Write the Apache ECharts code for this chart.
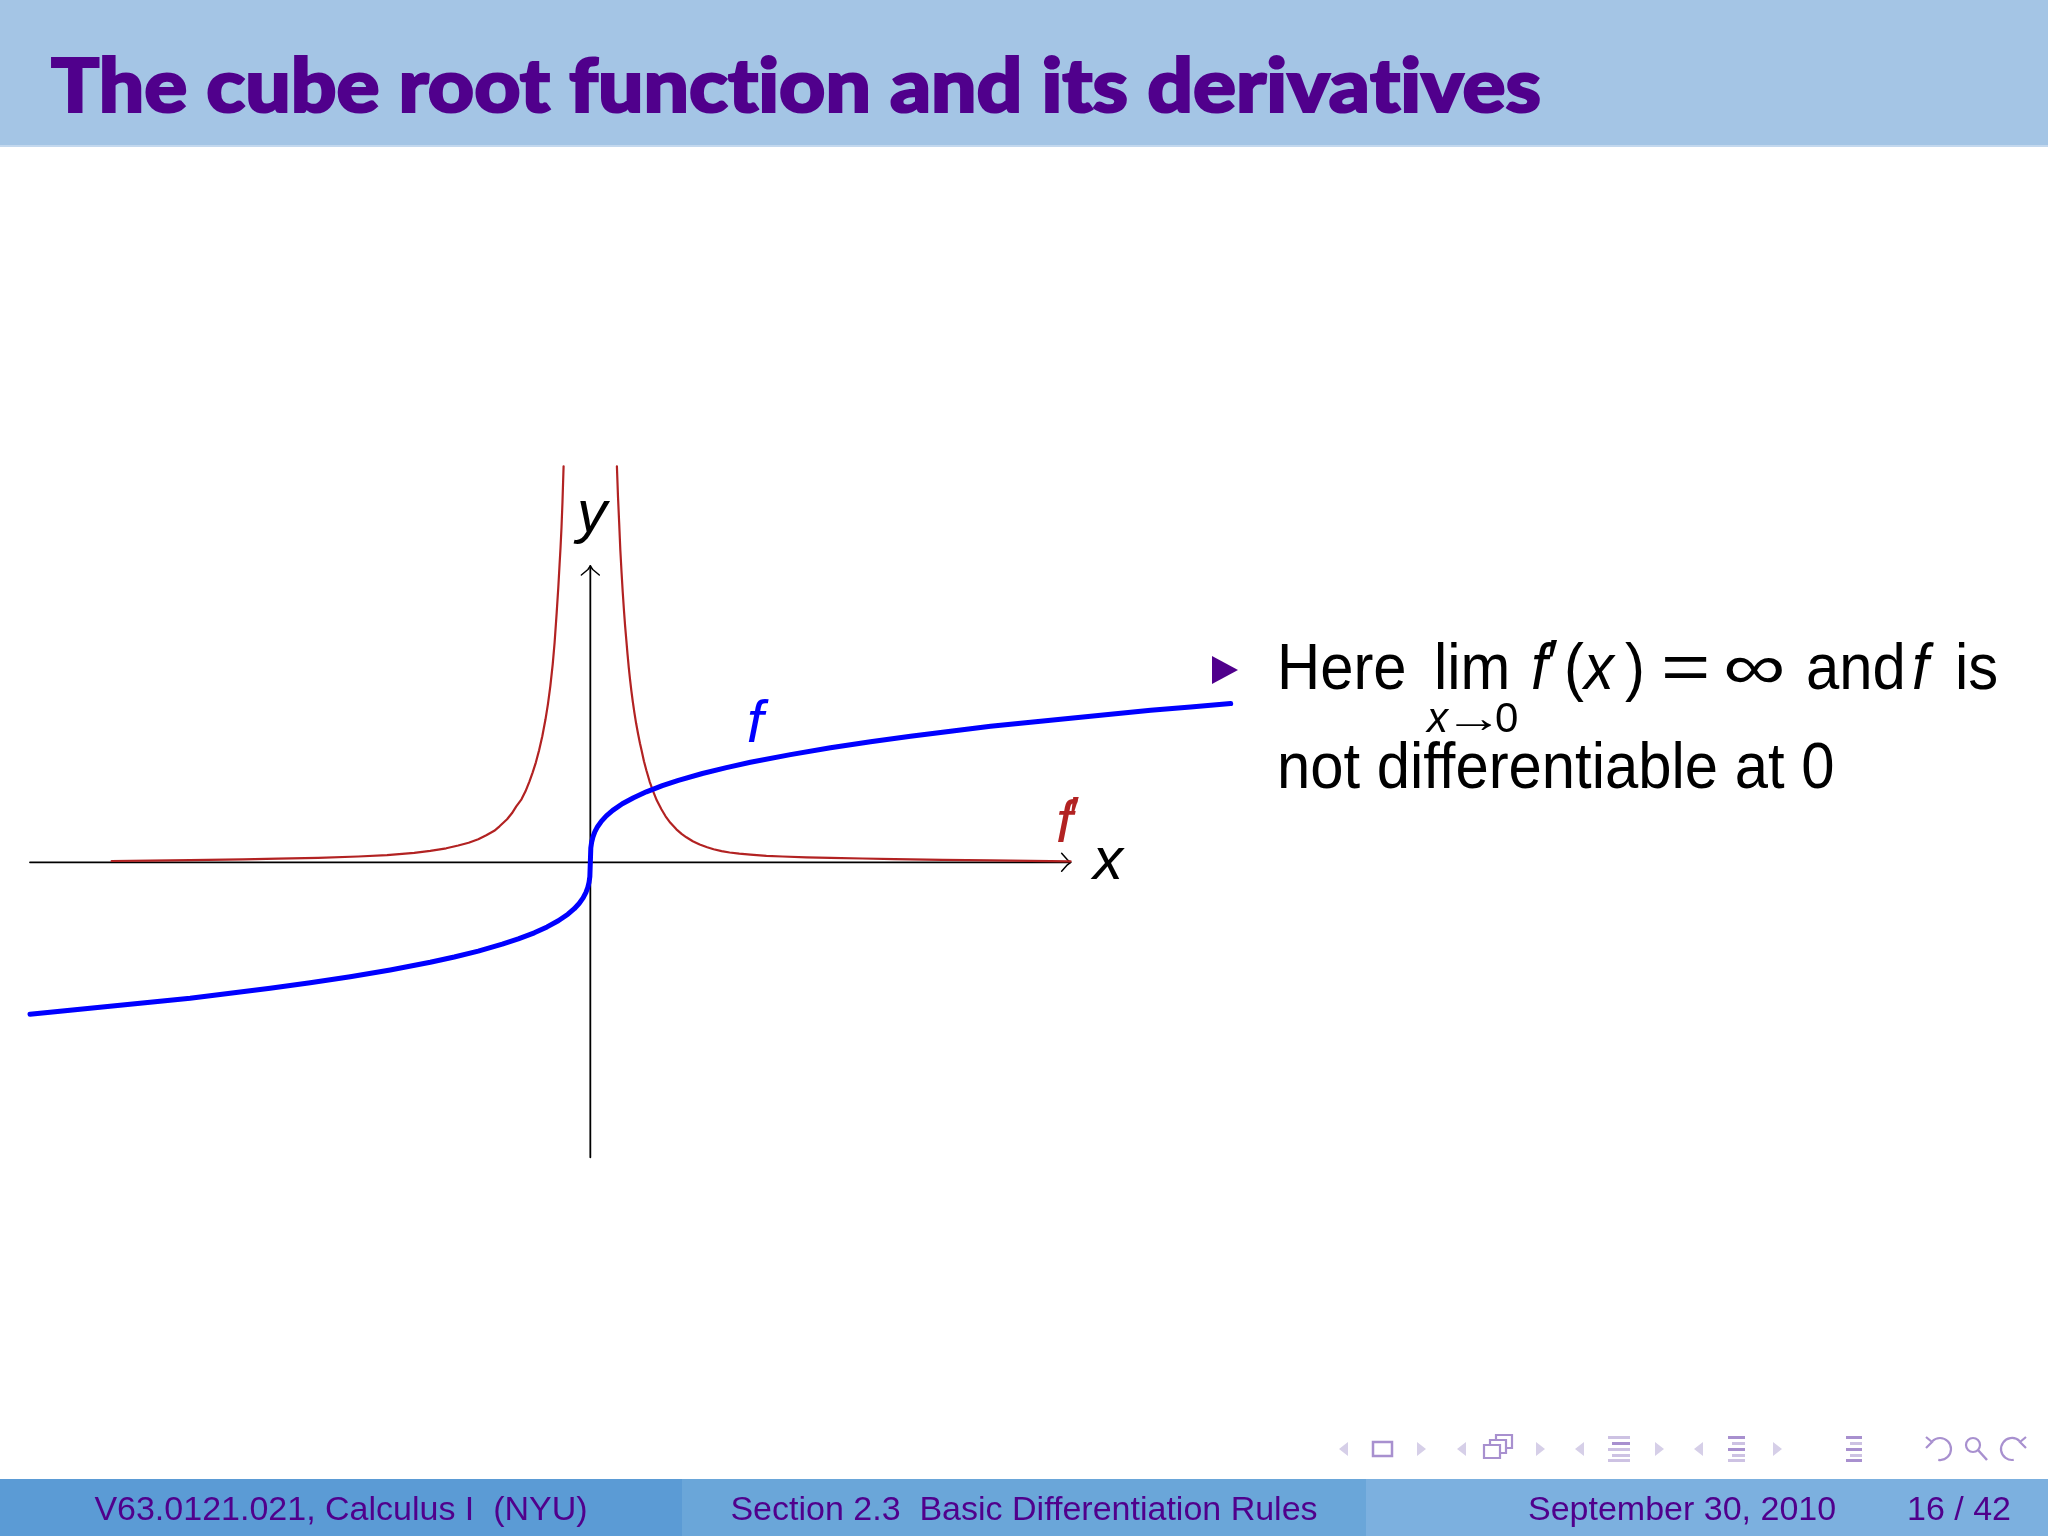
<!DOCTYPE html>
<html><head><meta charset="utf-8">
<script src="https://cdn.jsdelivr.net/npm/echarts@6/dist/echarts.min.js"></script>
<style>html,body{margin:0;padding:0;background:#fff}#c{width:2048px;height:1536px}</style>
</head><body><div id="c"></div>
<script>
// ---- data ----
const blueX = [-3.5,-3.25,-3,-2.75,-2.5,-2.25,-2,-1.75,-1.5,-1.25,-1,-0.85,-0.7,-0.55,-0.45,-0.35,-0.27,-0.2,-0.14,-0.1,-0.07,-0.045,-0.028,-0.016,-0.008,-0.003,0,
  0.003,0.008,0.016,0.028,0.045,0.07,0.1,0.14,0.2,0.27,0.35,0.45,0.55,0.7,0.85,1,1.25,1.5,1.75,2,2.25,2.5,2.75,3,3.25,3.5,3.75,4];
const blueY = [-1.52,-1.48,-1.44,-1.40,-1.36,-1.31,-1.26,-1.205,-1.145,-1.077,-1.0,-0.947,-0.888,-0.819,-0.766,-0.705,-0.646,-0.585,-0.519,-0.464,-0.412,-0.356,-0.304,-0.252,-0.2,-0.144,0,
  0.144,0.2,0.252,0.304,0.356,0.412,0.464,0.519,0.585,0.646,0.705,0.766,0.819,0.888,0.947,1.0,1.077,1.145,1.205,1.26,1.31,1.36,1.40,1.44,1.48,1.52,1.554,1.587];
const redLeftX = [-2.99,-2.75,-2.5,-2.17,-1.95,-1.7,-1.45,-1.27,-1.1,-1.0,-0.9,-0.825,-0.76,-0.7,-0.65,-0.6,-0.567,-0.52,-0.49,-0.4625,-0.43,-0.405,-0.38,-0.36,-0.34,-0.32,-0.3,-0.28,-0.265,-0.25,-0.235,-0.223,-0.21,-0.2,-0.192,-0.186,-0.18,-0.174,-0.167];
const redLeftY = [0.013,0.017,0.022,0.03,0.036,0.045,0.058,0.072,0.095,0.115,0.14,0.168,0.195,0.23,0.27,0.315,0.36,0.43,0.49,0.56,0.63,0.71,0.81,0.9,1.0,1.12,1.26,1.43,1.58,1.76,1.98,2.2,2.5,2.75,2.98,3.15,3.35,3.6,3.96];
const redRightX = [0.166,0.173,0.18,0.1875,0.195,0.2025,0.21,0.2175,0.225,0.2325,0.24,0.248,0.256,0.265,0.275,0.286,0.2975,0.31,0.32,0.335,0.35,0.37,0.39,0.415,0.444,0.47,0.5,0.5375,0.57,0.6,0.64,0.683,0.73,0.77,0.82,0.87,0.93,1.0,1.1,1.2,1.35,1.5,1.7,1.9,2.2,2.5,2.75,3.0];
const redRightY = [3.96,3.65,3.4,3.12,2.9,2.7,2.52,2.36,2.22,2.08,1.95,1.83,1.72,1.61,1.5,1.39,1.29,1.19,1.12,1.01,0.92,0.81,0.72,0.62,0.53,0.46,0.395,0.33,0.285,0.25,0.21,0.178,0.15,0.13,0.112,0.098,0.086,0.076,0.065,0.058,0.05,0.044,0.038,0.032,0.025,0.019,0.015,0.01];
const xAxisExtent = [-3.5, 3.0];
const yAxisExtent = [-2.95, 2.963];
const titleParts = ['The cube root func', 't', 'ion and its deriva', 't', 'ives'];
const footerTexts = ['V63.0121.021, Calculus I  (NYU)', 'Section 2.3  Basic Differentiation Rules', 'September 30, 2010', '16 / 42'];

// ---- build ----
const zip = (xs, ys) => xs.map((x, i) => [x, ys[i]]);
const blueData = zip(blueX, blueY);
const redData = zip(redLeftX, redLeftY).concat([[null, null]], zip(redRightX, redRightY));
const xAxisLine = [[xAxisExtent[0], 0], [xAxisExtent[1], 0]];
const yAxisLine = [[0, yAxisExtent[0]], [0, yAxisExtent[1]]];
const xArrow = [[xAxisExtent[1] - 0.056, 0.09], [xAxisExtent[1] - 0.02, 0.025], [xAxisExtent[1], 0], [xAxisExtent[1] - 0.02, -0.025], [xAxisExtent[1] - 0.056, -0.09]];
const yArrow = [[-0.056, yAxisExtent[1] - 0.09], [-0.015, yAxisExtent[1] - 0.035], [0, yAxisExtent[1]], [0.015, yAxisExtent[1] - 0.035], [0.056, yAxisExtent[1] - 0.09]];

const PURPLE = '#50008c';
const FONT = 'Liberation Sans, Arial, Helvetica, sans-serif';
function T(x, base, text, size, o) {
  o = o || {};
  const k = o.k != null ? o.k : 0.26;
  const st = {
    text: text, fontSize: size, fontFamily: o.family || FONT,
    fontStyle: o.italic ? 'italic' : 'normal', fontWeight: o.weight || 'normal',
    fill: o.color || '#000', align: o.align || 'left', verticalAlign: 'middle'
  };
  if (o.stroke) { st.stroke = o.color; st.lineWidth = o.stroke; }
  if (o.rich) { st.rich = o.rich; }
  return { type: 'text', x: x, y: base - k * size, z: 10, scaleX: o.sx || 1, style: st };
}
function tri(x0, x1, yc, dir, color) {
  const h = 7;
  const pts = dir < 0 ? [[x1, yc - h], [x0, yc], [x1, yc + h]] : [[x0, yc - h], [x1, yc], [x0, yc + h]];
  return { type: 'polygon', z: 10, shape: { points: pts }, style: { fill: color } };
}
function bars(x0, x1, ys, colors) {
  return ys.map((y, i) => ({ type: 'rect', z: 10, shape: { x: x0 + (i % 2 ? 4 : 0), y: y, width: x1 - x0 - (i % 2 ? 4 : 0), height: 3 }, style: { fill: colors[i] } }));
}
const triC = '#d6cfe8', icoC = '#a890cf', icoL = '#cdc2e3';
const NY = 1449;
const M = 65, MS = 0.92; // main text size and horizontal squeeze
const titleRich = { a: { fontSize: 75, fontWeight: 900, fontFamily: 'Lato, Open Sans, sans-serif', fill: PURPLE, stroke: PURPLE, lineWidth: 2.2 } };
let graphics = [
  { type: 'rect', z: 1, shape: { x: 0, y: 0, width: 2048, height: 146 }, style: { fill: '#a4c5e5' } },
  { type: 'rect', z: 1, shape: { x: 0, y: 145, width: 2048, height: 2 }, style: { fill: '#c3d8ee' } },
  T(51, 111, titleParts.map(p => '{a|' + p + '}').join(''), 75, { weight: 900, family: 'Lato, Open Sans, sans-serif', color: PURPLE, k: 0.31, sx: 1.07, stroke: 2.2, rich: titleRich }),
  { type: 'rect', z: 1, shape: { x: 0, y: 1479, width: 682, height: 57 }, style: { fill: '#5b9bd5' } },
  { type: 'rect', z: 1, shape: { x: 682, y: 1479, width: 684, height: 57 }, style: { fill: '#6aa6d9' } },
  { type: 'rect', z: 1, shape: { x: 1366, y: 1479, width: 682, height: 57 }, style: { fill: '#7cb0df' } },
  T(341, 1519, footerTexts[0], 34, { align: 'center', color: PURPLE }),
  T(1024, 1519, footerTexts[1], 34, { align: 'center', color: PURPLE }),
  T(1528, 1519, footerTexts[2], 34, { color: PURPLE }),
  T(2011, 1519, footerTexts[3], 34, { align: 'right', color: PURPLE }),
  // bullet
  { type: 'polygon', z: 10, shape: { points: [[1212, 656], [1238, 670], [1212, 684]] }, style: { fill: PURPLE } },
  // line 1
  T(1277, 688, 'Here', M, { sx: MS }),
  T(1434, 688, 'lim', M, { sx: MS }),
  T(1531, 688, 'f', M, { italic: true, sx: MS }),
  T(1547, 684, '′', M, { sx: MS }),
  T(1564, 688, '(', M, { sx: MS }),
  T(1584, 688, 'x', M, { italic: true, sx: MS }),
  T(1625, 688, ')', M, { sx: MS }),
  T(1661, 688, '=', M, { sx: 1.3 }),
  T(1723, 688, '∞', M, { sx: 1.35 }),
  T(1806, 688, 'and', M, { sx: MS }),
  T(1912, 688, 'f', M, { italic: true, sx: MS }),
  T(1955, 688, 'is', M, { sx: MS }),
  // subscript
  T(1427, 731, 'x', 42, { italic: true }),
  T(1444, 731, '→', 42, { sx: 1.4 }),
  T(1495, 731, '0', 42),
  // line 2
  T(1277, 787, 'not differentiable at 0', M, { sx: MS }),
  // chart labels
  T(592, 531, 'y', 60, { italic: true, align: 'center' }),
  T(1108, 878, 'x', 60, { italic: true, align: 'center' }),
  T(755, 741, 'f', 60, { italic: true, align: 'center', color: '#0000ff' }),
  T(1056, 841, 'f', 60, { italic: true, color: '#b22222' }),
  T(1069, 836, '′', 58, { color: '#b22222' }),
  // navigation symbols
  tri(1339, 1348, NY, -1, triC),
  { type: 'rect', z: 10, shape: { x: 1373, y: 1442, width: 19, height: 14 }, style: { fill: 'none', stroke: icoC, lineWidth: 2.5 } },
  tri(1417, 1426, NY, 1, triC),
  tri(1457, 1466, NY, -1, triC),
  { type: 'rect', z: 10, shape: { x: 1496, y: 1435, width: 16, height: 13 }, style: { fill: '#fff', stroke: icoC, lineWidth: 2.2 } },
  { type: 'rect', z: 11, shape: { x: 1490, y: 1440, width: 16, height: 13 }, style: { fill: '#fff', stroke: icoC, lineWidth: 2.2 } },
  { type: 'rect', z: 12, shape: { x: 1484, y: 1445, width: 16, height: 13 }, style: { fill: '#fff', stroke: icoC, lineWidth: 2.2 } },
  tri(1536, 1545, NY, 1, triC),
  tri(1575, 1584, NY, -1, triC)
].concat(
  bars(1608, 1630, [1436, 1442, 1448, 1454, 1459], [icoL, icoC, icoL, icoL, icoL]),
  [tri(1655, 1664, NY, 1, triC), tri(1694, 1703, NY, -1, triC)],
  bars(1728, 1745, [1436, 1442, 1448, 1454, 1459], [icoC, icoL, icoC, icoL, icoL]),
  [tri(1773, 1782, NY, 1, triC)],
  bars(1846, 1862, [1436, 1442, 1448, 1454, 1459], [icoC, icoL, icoC, icoL, icoC]),
  [
    { type: 'arc', z: 10, shape: { cx: 1940, cy: 1449, r: 11, startAngle: -Math.PI * 0.75, endAngle: Math.PI * 0.55 }, style: { fill: 'none', stroke: icoC, lineWidth: 2.2 } },
    { type: 'polyline', z: 10, shape: { points: [[1926, 1437], [1932, 1442], [1926, 1448]] }, style: { stroke: icoC, fill: 'none', lineWidth: 2.2 } },
    { type: 'circle', z: 10, shape: { cx: 1973, cy: 1445, r: 7 }, style: { fill: 'none', stroke: icoC, lineWidth: 2.2 } },
    { type: 'line', z: 10, shape: { x1: 1978, y1: 1450, x2: 1987, y2: 1460 }, style: { stroke: icoC, lineWidth: 2.5 } },
    { type: 'arc', z: 10, shape: { cx: 2012, cy: 1449, r: 11, startAngle: Math.PI * 0.45, endAngle: Math.PI * 1.75 }, style: { fill: 'none', stroke: icoC, lineWidth: 2.2 } },
    { type: 'polyline', z: 10, shape: { points: [[2026, 1437], [2020, 1442], [2026, 1448]] }, style: { stroke: icoC, fill: 'none', lineWidth: 2.2 } }
  ]
);

const chart = echarts.init(document.getElementById('c'), null, { renderer: 'canvas' });
const lineS = (data, color, width, z) => ({
  type: 'line', data: data, showSymbol: false, symbol: 'none', silent: true, z: z,
  smooth: false, connectNulls: false,
  lineStyle: { color: color, width: width, cap: 'round', join: 'round' }, clip: true
});
chart.setOption({
  animation: false,
  backgroundColor: '#ffffff',
  grid: { left: 30, right: 817.3, top: 462.3, bottom: 373.7, containLabel: false },
  xAxis: { type: 'value', min: -3.5, max: 4, show: false },
  yAxis: { type: 'value', min: -3, max: 4, show: false },
  series: [
    lineS(xAxisLine, '#000', 1.8, 2),
    lineS(yAxisLine, '#000', 1.8, 2),
    lineS(xArrow, '#000', 1.5, 2),
    lineS(yArrow, '#000', 1.5, 2),
    lineS(redData, '#b22222', 2.2, 3),
    lineS(blueData, '#0000ff', 5, 4)
  ],
  graphic: graphics
});
</script>
</body></html>
